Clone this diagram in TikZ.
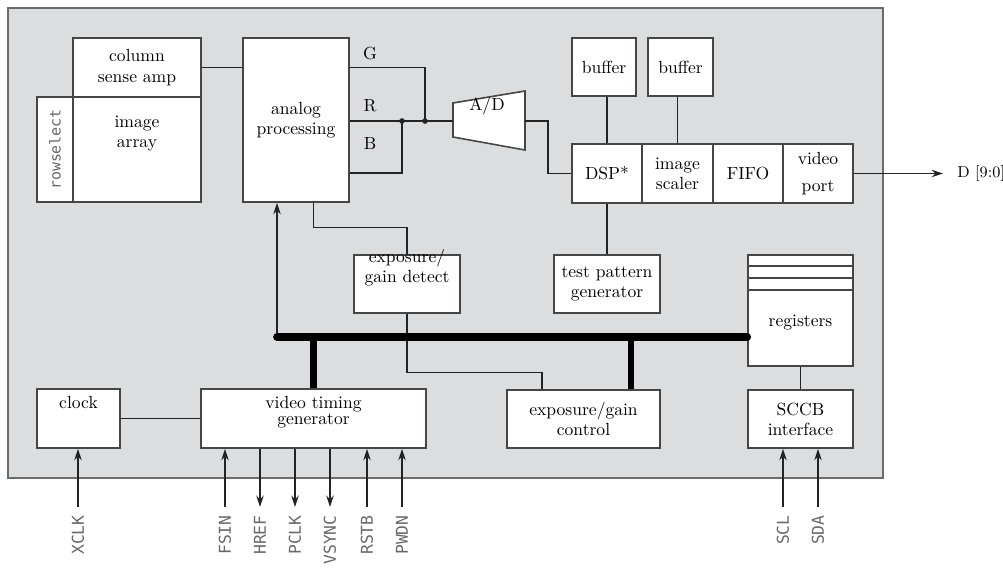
\documentclass[tikz,border=0pt]{standalone}
\usepackage{fontspec}
\newfontfamily\pinfont{DejaVu Sans Mono}
\usetikzlibrary{arrows.meta}

\definecolor{chipgray}{RGB}{220,221,223}
\definecolor{edgegray}{RGB}{70,70,70}
\definecolor{wirecol}{RGB}{35,35,35}
\definecolor{pingray}{RGB}{105,105,105}

\tikzset{
  txt/.style={font=\fontsize{10}{11.5}\selectfont},
  block/.style={rectangle, draw=edgegray, fill=white, line width=0.9pt, inner sep=1pt, align=center, txt},
  toplbl/.style={anchor=north, inner sep=0pt, align=center, txt},
  wire/.style={draw=wirecol, line width=0.8pt},
  bus/.style={draw=black, line width=4.4pt},
  pin/.style={font=\pinfont\fontsize{9.3}{9.3}\selectfont, text=pingray, rotate=90, anchor=east, inner sep=0pt},
  >={Stealth[length=6.5pt,width=4.2pt]}
}

\begin{document}
\begin{tikzpicture}[x=0.02cm, y=-0.02cm]
    \useasboundingbox (0,0) rectangle (1003,569);
    \draw[fill=chipgray, draw=edgegray!80, line width=1.1pt] (8,8) rectangle (883,478);

    % sensor side
    \node at (137,67.5) [block, minimum width=2.56cm, minimum height=1.18cm] (ColAmp) {column\\sense amp};
    \node at (137,149.5) [block, minimum width=2.56cm, minimum height=2.10cm,
        label={[toplbl, yshift=-0.38cm]north:image\\array}] (ImgArray) {};
    \node at (55,149.5) [block, rotate=90, minimum width=2.10cm, minimum height=0.72cm,
        font=\pinfont\fontsize{8.5}{8.5}\selectfont, text=pingray] (RowSel) {rowselect};
    \node at (296,120) [block, minimum width=2.12cm, minimum height=3.28cm] (Analog) {analog\\processing};

    \node at (370,53) [txt] (GLbl) {G};
    \node at (370,106) [txt] (RLbl) {R};
    \node at (370,143) [txt] (BLbl) {B};

    % A/D converter
    \draw[fill=white, draw=edgegray, line width=0.9pt] (453,103) -- (525,91) -- (525,150) -- (453,137) -- cycle;
    \coordinate (ADin) at (453,121);
    \coordinate (ADout) at (525,121);
    \node at (487,106) [txt] (ADLbl) {A/D};

    % digital side
    \node at (604,67) [block, minimum width=1.28cm, minimum height=1.16cm] (Buf1) {buffer};
    \node at (680.5,67) [block, minimum width=1.30cm, minimum height=1.16cm] (Buf2) {buffer};
    \node at (607,173.5) [block, minimum width=1.40cm, minimum height=1.18cm] (DSP) {DSP*};
    \node at (677.5,173.5) [block, minimum width=1.42cm, minimum height=1.18cm] (Scaler) {image\\scaler};
    \node at (748,173.5) [block, minimum width=1.40cm, minimum height=1.18cm] (FIFO) {FIFO};
    \node at (818,173.5) [block, minimum width=1.40cm, minimum height=1.18cm] (VPort) {video\\[4pt]port};
    \node at (957,173.5) [anchor=west, inner sep=0pt, font=\fontsize{9}{10}\selectfont] (Dout) {D [9:0]};

    \node at (607,284) [block, minimum width=2.12cm, minimum height=1.16cm] (TPG) {test pattern\\generator};
    \node at (407,284) [block, minimum width=2.12cm, minimum height=1.16cm,
        label={[toplbl, yshift=0.1cm]north:exposure/\\gain detect}] (ExpDet) {};
    \node at (800.5,310.5) [block, minimum width=2.10cm, minimum height=2.22cm,
        label={[txt, yshift=-0.25cm]center:registers}] (Regs) {};
    \foreach \ry in {266,278,290}
        \draw[edgegray, line width=0.9pt] (Regs.west |- 0,\ry) -- (Regs.east |- 0,\ry);

    \node at (78.5,418.5) [block, minimum width=1.66cm, minimum height=1.18cm,
        label={[toplbl, yshift=-0.16cm]north:clock}] (Clock) {};
    \node at (313.5,418.5) [block, minimum width=4.50cm, minimum height=1.18cm,
        label={[toplbl, yshift=-0.16cm, font=\fontsize{10}{8.8}\selectfont]north:video timing\\generator}] (VTG) {};
    \node at (583.5,419) [block, minimum width=3.06cm, minimum height=1.16cm] (ExpCtl) {exposure/gain\\control};
    \node at (800.5,419) [block, minimum width=2.10cm, minimum height=1.16cm] (SCCB) {SCCB\\interface};

    % analog path
    \coordinate (Gj) at (425,121);
    \coordinate (Bj) at (402,121);
    \draw[wire] (ColAmp.east) -- (ColAmp.east -| Analog.west);
    \draw[wire] (Analog.east |- ColAmp.east) -| (Gj);
    \draw[wire] (Analog.east |- ADin) -- (ADin);
    \draw[wire] (Analog.east |- 0,173) -| (Bj);
    \fill[wirecol] (Gj) circle (1.6pt);
    \fill[wirecol] (Bj) circle (1.6pt);
    \draw[wire] (ADout) -- ++(23,0) |- (DSP.west);

    % digital path
    \draw[wire] (DSP.north) -- (DSP.north |- Buf1.south);
    \draw[wire] (Scaler.north) -- (Scaler.north |- Buf2.south);
    \draw[wire, ->, shorten >=0.28cm] (VPort.east) -- (Dout.west);
    \draw[wire] (DSP.south) -- (TPG.north);

    % exposure loop
    \draw[wire] (Analog.south -| VTG.north) -- ++(0,25) -| (ExpDet.north);
    \draw[wire] (ExpDet.south) -- ++(0,59) -| ([xshift=-0.83cm]ExpCtl.north);

    % control bus
    \coordinate (BusL) at (277,337);
    \draw[wire, ->] (BusL) -- (BusL |- Analog.south);
    \draw[bus, line cap=round] (BusL) -- (BusL -| Regs.west);
    \draw[bus, line width=3.8pt] (VTG.north |- BusL) -- (VTG.north);
    \draw[bus, line width=3.8pt] ([xshift=0.95cm]ExpCtl.north |- BusL) -- ([xshift=0.95cm]ExpCtl.north);

    \draw[wire] (Clock.east) -- (VTG.west);
    \draw[wire] (Regs.south) -- (SCCB.north);

    % pins
    \foreach \px/\pname/\pblk/\parr in {78/XCLK/Clock/->, 225/FSIN/VTG/->, 260/HREF/VTG/<-,
        295/PCLK/VTG/<-, 330/VSYNC/VTG/<-, 367/RSTB/VTG/->, 402/PWDN/VTG/->,
        783/SCL/SCCB/->, 818/SDA/SCCB/->}
    {
        \coordinate (P\pname) at (\px,507);
        \draw[wire, \parr] (P\pname) -- (P\pname |- \pblk.south);
        \node at (\px,515) [pin] (L\pname) {\pname};
    }
\end{tikzpicture}
\end{document}
